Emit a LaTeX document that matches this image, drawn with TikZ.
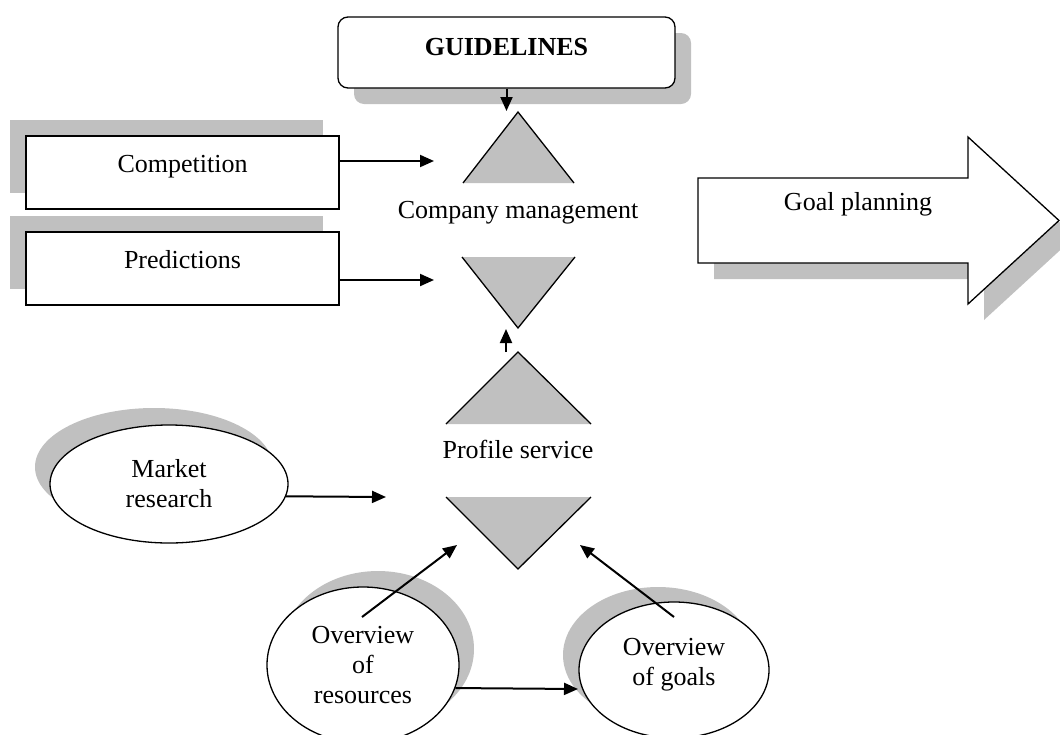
\documentclass[tikz,border=0pt]{standalone}
\usepackage{fontspec}
\setmainfont{Liberation Serif}
\usetikzlibrary{arrows.meta,shapes.geometric,shadows}
\definecolor{shadowgray}{HTML}{C0C0C0}
\begin{document}
\begin{tikzpicture}[x=0.5pt,y=-0.5pt,
  font=\fontsize{13}{15}\selectfont,
  outline/.style={line width=0.65pt},
  box/.style={draw, outline, fill=white, rectangle, inner sep=0pt},
  oval/.style={draw, outline, fill=white, ellipse, inner sep=0pt, align=center},
  tri/.style={fill=shadowgray, draw=none},
  side/.style={outline, line join=miter},
  arr/.style={line width=1pt, -{Triangle[length=7pt,width=6pt]}},
  plain/.style={inner sep=0pt, anchor=base}]
\useasboundingbox (0,0) rectangle (1060,734);

% Goal planning arrow (shadow, then outline)
\fill[fill=shadowgray] (714,194) -- (984,194) -- (984,153) -- (1075,236.5) -- (984,320) -- (984,279) -- (714,279) -- cycle;
\draw[outline, fill=white] (698,178) -- (968,178) -- (968,137) -- (1059,220.5) -- (968,304) -- (968,263) -- (698,263) -- cycle;
\node[plain] (goal) at (858,210) {Goal planning};

% Boxes
\node[box, rounded corners=5pt, minimum width=168.5pt, minimum height=35.5pt,
  text height=8pt, text depth=5.5pt, font=\fontsize{13}{15}\selectfont\bfseries,
  general shadow={fill=shadowgray, shadow xshift=8pt, shadow yshift=-8pt}]
  (G) at (506.5,52.5) {GUIDELINES};
\node[box, minimum width=156.5pt, minimum height=36.5pt, text height=6pt, text depth=6pt,
  general shadow={fill=shadowgray, shadow xshift=-8pt, shadow yshift=8pt}]
  (C) at (182.5,172.5) {Competition};
\node[box, minimum width=156.5pt, minimum height=36.5pt, text height=6pt, text depth=6pt,
  general shadow={fill=shadowgray, shadow xshift=-8pt, shadow yshift=8pt}]
  (P) at (182.5,268.5) {Predictions};

% Triangles
\fill[tri] (463,183) -- (518,112) -- (574,183) -- cycle;
\draw[side] (463,183) -- (518,112) -- (574,183);
\fill[tri] (462,257) -- (518,328) -- (575,257) -- cycle;
\draw[side] (462,257) -- (518,328) -- (575,257);
\fill[tri] (446,424) -- (518,352) -- (591,424) -- cycle;
\draw[side] (446,424) -- (518,352) -- (591,424);
\fill[tri] (446,497) -- (518,569) -- (591,497) -- cycle;
\draw[side] (446,497) -- (518,569) -- (591,497);

\node[plain] (CM) at (518,218) {Company management};
\node[plain] (PS) at (518,458) {Profile service};

% Ovals
\node[oval, minimum width=119pt, minimum height=59pt,
  general shadow={fill=shadowgray, shadow xshift=-7.5pt, shadow yshift=8.5pt}]
  (M) at (169,484) {Market\\research};
\node[oval, minimum width=96pt, minimum height=78pt,
  general shadow={fill=shadowgray, shadow xshift=7.5pt, shadow yshift=8pt}]
  (R) at (363,665) {Overview\\of\\resources};
\node[oval, minimum width=95pt, minimum height=68pt,
  general shadow={fill=shadowgray, shadow xshift=-8pt, shadow yshift=7.5pt}]
  (O) at (674,670) {\raisebox{3pt}[\height][\depth]{\begin{tabular}{@{}c@{}}Overview\\of goals\end{tabular}}};

% Arrow end points
\coordinate (gT) at (506.5,111);
\coordinate (cT) at (434,161);
\coordinate (pT) at (434,280);
\coordinate (uS) at (506,352);
\coordinate (uT) at (506,329);
\coordinate (mT) at (386,497);
\coordinate (rS) at (362,617);
\coordinate (rT) at (457,545);
\coordinate (oS) at (674,617);
\coordinate (oT) at (580,545);
\coordinate (oE) at (578,689);

% Connectors
\draw[arr] (G) -- (gT);
\draw[arr] (cT -| C.east) -- (cT);
\draw[arr] (pT -| P.east) -- (pT);
\draw[arr] (uS) -- (uT);
\draw[arr] (M.-6.4) -- (mT);
\draw[arr] (rS) -- (rT);
\draw[arr] (oS) -- (oT);
\draw[arr] (R.-14.8) -- (oE);
\end{tikzpicture}
\end{document}
